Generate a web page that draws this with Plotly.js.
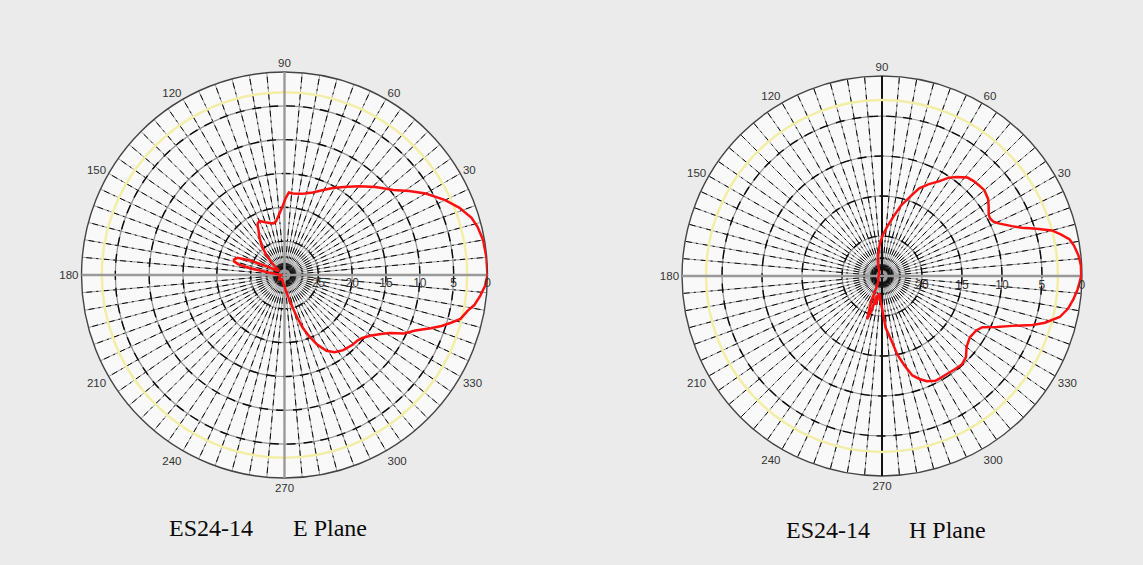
<!DOCTYPE html>
<html>
<head>
<meta charset="utf-8">
<script src="https://cdn.plot.ly/plotly-3.0.1.min.js"></script>
<style>
  html, body { margin: 0; padding: 0; background: #ebebeb; }
  #chart { width: 1143px; height: 565px; }
</style>
</head>
<body>
<div id="chart"></div>
<script>
// E-plane pattern of the ES24-14 antenna: angle (deg) and relative gain (dB)
const eAngle = [0, 5, 10, 14, 17, 21, 25, 30, 34, 38, 44, 50, 56, 61, 66, 71, 76, 80, 84, 87,
  89, 92, 95, 99, 102, 106, 110, 115, 118, 120, 124, 128, 132, 136, 140, 145, 150, 154, 157,
  160, 163, 165, 167, 169, 172, 176, 180, 200, 220, 240, 260, 270, 276, 280, 284, 287, 289,
  292, 295, 299, 303, 308, 314, 318, 321, 325, 328, 331, 334, 337, 340, 342, 344, 346, 349,
  351, 354, 357, 360];
const eGain = [0, -0.05, -0.2, -0.6, -1.1, -2.3, -3.8, -5.9, -7.8, -9.6, -11.3, -12.9, -14.3,
  -15.3, -16.3, -17.1, -17.6, -17.8, -17.9, -17.8, -18.6, -20.0, -21.0, -22.0, -22.2, -22.0,
  -21.7, -21.2, -21.5, -22.3, -23.4, -24.6, -25.9, -27.3, -28.5, -29.0, -28.6, -27.2, -24.5,
  -22.6, -22.2, -22.3, -23.0, -25.0, -28.0, -29.2, -29.5, -29.3, -29.0, -29.3, -28.8, -28.3,
  -27.5, -26.6, -25.0, -23.2, -21.8, -20.2, -18.7, -17.2, -16.4, -15.9, -15.6, -15.5, -15.2,
  -14.4, -13.5, -12.3, -10.3, -9.0, -7.0, -5.6, -4.4, -3.2, -2.4, -1.6, -0.9, -0.3, 0];

// H-plane pattern of the ES24-14 antenna
const hAngle = [0, 3, 6, 9, 11, 13, 15, 17, 19, 21, 24, 26, 28, 30, 33, 36, 40, 43, 46, 49,
  53, 56, 59, 63, 67, 70, 75, 79, 84, 89, 94, 100, 106, 112, 120, 140, 170, 200, 230, 242,
  247, 251, 253, 255, 258, 260, 264, 267, 270, 274, 278, 281, 284, 287, 290, 293, 297, 300,
  304, 308, 312, 316, 320, 325, 330, 333, 336, 339, 342, 344, 347, 350, 353, 356, 358, 360];
const hGain = [-0.1, -0.1, -0.3, -0.7, -1.1, -2.0, -3.0, -4.8, -6.5, -7.6, -8.9, -9.5, -9.7,
  -9.6, -9.1, -8.6, -8.3, -8.4, -8.5, -8.7, -9.5, -10.2, -11.2, -12.1, -13.1, -14.3, -15.9,
  -17.4, -18.8, -19.9, -21.0, -22.3, -23.2, -23.8, -24.3, -24.5, -24.6, -24.5, -24.3, -23.8,
  -21.5, -19.3, -20.5, -22.5, -21.3, -22.8, -22.6, -21.8, -21.0, -18.5, -17.0, -15.0, -13.5,
  -12.0, -11.3, -10.7, -10.3, -10.3, -10.3, -10.2, -10.1, -10.4, -11.2, -11.6, -11.4, -10.9,
  -9.3, -7.6, -5.2, -3.8, -2.2, -1.4, -0.9, -0.5, -0.3, -0.1];

// radial scales (dB below peak)
const eRange = [-30, 0];
const hRange = [-25, 0];
const eRadialTicks = [-25, -20, -15, -10, -5, 0];
const eRadialLabels = ['25', '20', '15', '10', '5', '0'];
const hRadialTicks = [-20, -15, -10, -5, 0];
const hRadialLabels = ['20', '15', '10', '5', '0'];
const halfPower = [-3];

// angular labels every 30 degrees
const angleLabelVals = [0, 30, 60, 90, 120, 150, 180, 210, 240, 270, 300, 330];
const angleLabelText = ['', '30', '60', '90', '120', '150', '180', '210', '240', '270', '300', '330'];

const SPOKE_STEP = 5;
const spokes = [];
const spokeText = [];
for (let a = 0; a < 360; a += SPOKE_STEP) {
  spokes.push(a);
  const i = angleLabelVals.indexOf(a);
  spokeText.push(i >= 0 ? angleLabelText[i] : '');
}

const eDomain = { x: [0.0713, 0.4265], y: [0.154, 0.8726] };
const hDomain = { x: [0.5967, 0.9466], y: [0.1575, 0.8655] };

const clear = 'rgba(0,0,0,0)';
const hidden = { showticklabels: false, ticks: '', showline: false };

function baseLayer(domain, range, circles) {
  return {
    domain, bgcolor: '#f9f9f9',
    radialaxis: Object.assign({}, hidden, { range, tickvals: circles, gridcolor: '#8e8e8e', gridwidth: 1.2 }),
    angularaxis: {
      tickvals: spokes, ticktext: spokeText, ticks: '', showline: true,
      linecolor: '#444', linewidth: 1.4, gridcolor: '#9a9a9a', gridwidth: 1,
      tickfont: { family: 'Liberation Sans, Arial, sans-serif', size: 11.5, color: '#333' }
    }
  };
}
function dashLayer(domain, range, circles) {
  return {
    domain, bgcolor: clear,
    radialaxis: Object.assign({}, hidden, { range, tickvals: circles, gridcolor: '#0a0a0a', gridwidth: 1.4, griddash: '9px,8px' }),
    angularaxis: Object.assign({}, hidden, { tickvals: spokes, gridcolor: '#0a0a0a', gridwidth: 1, griddash: '2px,4px,6px,5px' })
  };
}
function halfPowerLayer(domain, range, axisVals, axisColor) {
  return {
    domain, bgcolor: clear,
    radialaxis: Object.assign({}, hidden, { range, tickvals: halfPower, gridcolor: '#f3eea6', gridwidth: 2.5 }),
    angularaxis: Object.assign({}, hidden, { tickvals: axisVals, showgrid: axisVals.length > 0, gridcolor: axisColor, gridwidth: 2 })
  };
}
function topLayer(domain, range, rTicks, rLabels, axisVals) {
  return {
    domain, bgcolor: clear,
    radialaxis: {
      range, tickvals: rTicks, ticktext: rLabels, showgrid: false, ticks: '', showline: false,
      angle: 0, tickangle: 0,
      tickfont: { family: 'Liberation Sans, Arial, sans-serif', size: 12, color: '#333' }
    },
    angularaxis: Object.assign({}, hidden, { tickvals: axisVals, gridcolor: '#9a9a9a', gridwidth: 2.4 })
  };
}

const eCircles = eRadialTicks.slice(0, -1);
const hCircles = hRadialTicks.slice(0, -1);

const layout = {
  width: 1143, height: 565,
  margin: { l: 0, r: 0, t: 0, b: 0 },
  paper_bgcolor: '#ebebeb',
  showlegend: false,
  polar: baseLayer(eDomain, eRange, eCircles),
  polar2: dashLayer(eDomain, eRange, eCircles),
  polar3: halfPowerLayer(eDomain, eRange, [], '#9a9a9a'),
  polar4: topLayer(eDomain, eRange, eRadialTicks, eRadialLabels, [0, 90, 180, 270]),
  polar5: baseLayer(hDomain, hRange, hCircles),
  polar6: dashLayer(hDomain, hRange, hCircles),
  polar7: halfPowerLayer(hDomain, hRange, [90, 270], '#111'),
  polar8: topLayer(hDomain, hRange, hRadialTicks, hRadialLabels, [0, 180]),
  annotations: [
    { text: 'ES24-14', x: 0.1461, xanchor: 'left' },
    { text: 'E Plane', x: 0.2546, xanchor: 'left' },
    { text: 'ES24-14', x: 0.6859, xanchor: 'left', y: 0.062 },
    { text: 'H Plane', x: 0.7935, xanchor: 'left', y: 0.062 }
  ].map(a => Object.assign({
    xref: 'paper', yref: 'paper', y: 0.0655, yanchor: 'middle', showarrow: false,
    font: { family: 'Liberation Serif, Times New Roman, serif', size: 24, color: '#0a0a0a' }
  }, a))
};

// empty traces so every grid layer gets drawn
const gridLayers = ['polar', 'polar2', 'polar3', 'polar5', 'polar6', 'polar7'];
const data = gridLayers.map(sp => ({
  type: 'scatterpolar', subplot: sp, r: [], theta: [], mode: 'lines', hoverinfo: 'skip'
}));

const lineStyle = { color: '#ff1010', width: 2.5 };
data.push(
  { type: 'scatterpolar', subplot: 'polar4', theta: eAngle, r: eGain, mode: 'lines', line: lineStyle, hoverinfo: 'skip' },
  { type: 'scatterpolar', subplot: 'polar8', theta: hAngle, r: hGain, mode: 'lines', line: lineStyle, hoverinfo: 'skip' }
);

Plotly.newPlot('chart', data, layout, { staticPlot: true, displayModeBar: false });
</script>
</body>
</html>
